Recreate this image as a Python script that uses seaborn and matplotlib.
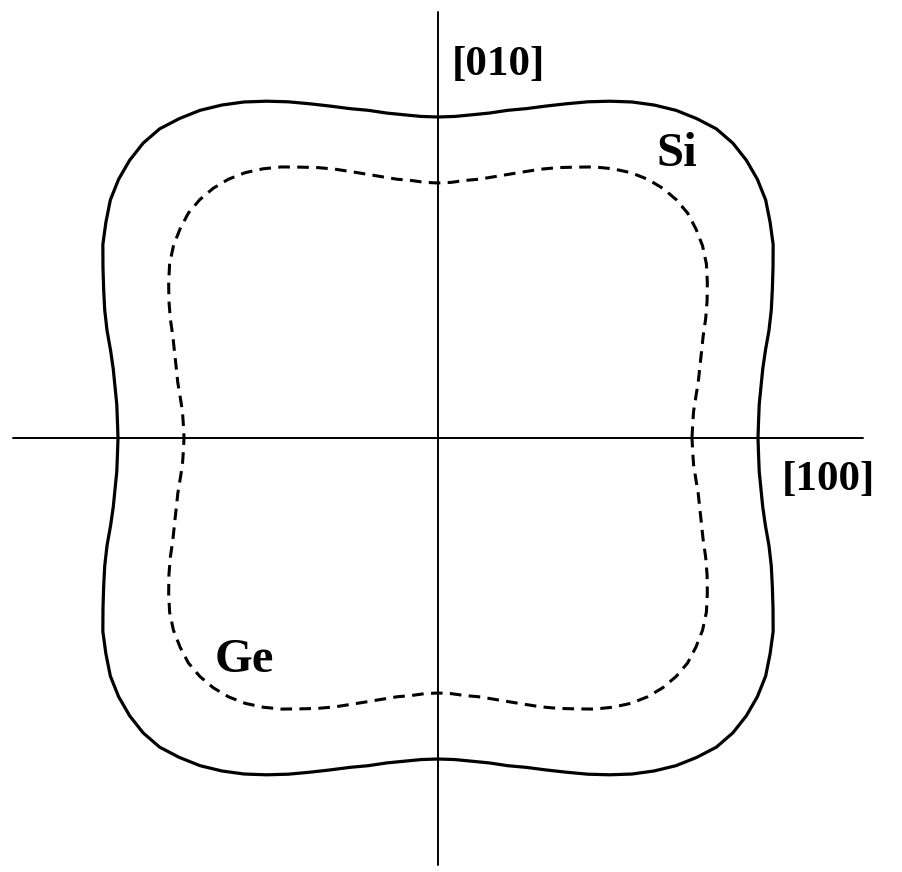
import numpy as np
import pandas as pd
import seaborn as sns
import matplotlib.pyplot as plt

# radius (pixels), first quadrant, every 3 degrees
angles_q = np.arange(0, 91, 3)
si_r = [320, 321, 323, 327, 332, 339, 348, 357, 366, 376, 387,
        396, 405, 411, 415, 417, 416, 411, 405, 397, 388,
        378, 368, 358, 349, 341, 335, 329, 325, 322, 321]
ge_r = [254, 255, 257, 261, 266, 271, 277, 284, 293, 302, 311,
        320, 327, 332, 336, 337, 336, 333, 328, 321, 313,
        304, 296, 288, 280, 273, 267, 262, 259, 256, 255]

axis_half = 425
labels = {'[010]': (60, 373, 31), '[100]': (390, -42, 31),
          'Si': (239, 284, 35), 'Ge': (-194, -222, 35)}


def full_curve(r_q, name):
    # picture has the cubic 4-fold symmetry, mirror the quadrant
    r_q = np.asarray(r_q, dtype=float)
    th = np.r_[angles_q, 180 - angles_q[::-1], 180 + angles_q, 360 - angles_q[::-1]]
    r = np.r_[r_q, r_q[::-1], r_q, r_q[::-1]]
    t = np.deg2rad(th)
    return pd.DataFrame({'x': r * np.cos(t), 'y': r * np.sin(t), 'curve': name})


si = full_curve(si_r, 'Si')
ge = full_curve(ge_r, 'Ge')

sns.set_style('white')
fig = plt.figure(figsize=(9.02, 8.72), dpi=100)
ax = fig.add_axes([0, 0, 1, 1])

ax.plot([-axis_half, axis_half], [0, 0], color='black', lw=1.4)
ax.plot([0, 0], [-axis_half - 2, axis_half + 1], color='black', lw=1.4)

sns.lineplot(data=si, x='x', y='y', sort=False, estimator=None, color='black',
             lw=2.3, ax=ax)
sns.lineplot(data=ge, x='x', y='y', sort=False, estimator=None, color='black',
             lw=2.2, linestyle=(0, (3.8, 2.4)), ax=ax)

for txt, (tx, ty, fs) in labels.items():
    ax.text(tx, ty, txt, fontsize=fs, fontweight='bold', family='Liberation Serif',
            color='black', ha='center', va='center')

ax.set_xlim(-438, 464)
ax.set_ylim(-434, 438)
ax.axis('off')
fig.savefig('out.png', dpi=100)
